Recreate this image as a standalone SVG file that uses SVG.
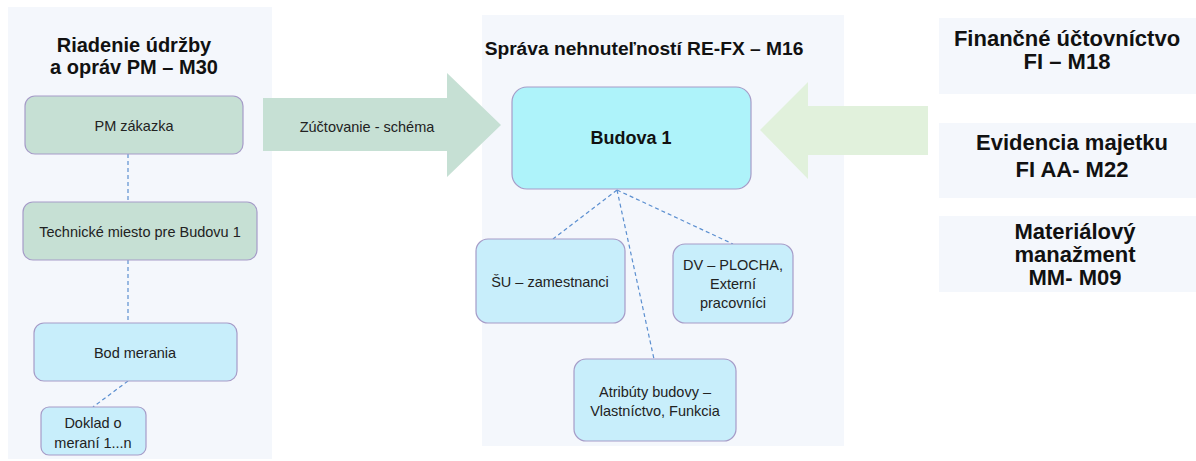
<svg xmlns="http://www.w3.org/2000/svg" width="1196" height="461" viewBox="0 0 1196 461">
<style>
.panel{fill:#F4F7FC}
.green{fill:#C6E0D4;stroke:#A69CC8;stroke-width:1.2}
.blue{fill:#C8EEFB;stroke:#A69CC8;stroke-width:1.2}
.cyan{fill:#AEF3FA;stroke:#A69CC8;stroke-width:1.2}
.t{font-family:"Liberation Sans",Arial,sans-serif;font-size:14.5px;fill:#222;text-anchor:middle}
.h{font-family:"Liberation Sans",Arial,sans-serif;font-size:20px;font-weight:bold;fill:#111;text-anchor:middle}
.hr{font-size:22px}
.dash{stroke:#5B8FD0;stroke-width:1.2;stroke-dasharray:4 3;fill:none}
</style>
<rect width="1196" height="461" fill="#FFFFFF"/>
<g id="panel-left">
<rect class="panel" x="8" y="7" width="264" height="452"/>
<text class="h" x="134" y="52">Riadenie údržby</text>
<text class="h" x="134" y="74">a opráv PM – M30</text>
</g>
<g id="panel-center">
<rect class="panel" x="482" y="15" width="362" height="431"/>
<text class="h" x="644" y="55" style="font-size:19.2px">Správa nehnuteľností RE-FX – M16</text>
</g>
<g id="connectors">
<line class="dash" x1="128" y1="154" x2="128" y2="202"/>
<line class="dash" x1="128" y1="260" x2="128" y2="323"/>
<line class="dash" x1="128" y1="381" x2="93" y2="407"/>
<line class="dash" x1="617" y1="190" x2="553" y2="239"/>
<line class="dash" x1="617" y1="190" x2="654" y2="359"/>
<line class="dash" x1="617" y1="190" x2="733" y2="244"/>
</g>
<g id="pm-zakazka">
<rect class="green" x="25" y="96" width="218" height="58" rx="10"/>
<text class="t" x="134" y="131">PM zákazka</text>
</g>
<g id="technicke-miesto">
<rect class="green" x="23" y="202" width="234" height="58" rx="10"/>
<text class="t" x="140" y="237">Technické miesto pre Budovu 1</text>
</g>
<g id="bod-merania">
<rect class="blue" x="34" y="323" width="203" height="58" rx="10"/>
<text class="t" x="135" y="358">Bod merania</text>
</g>
<g id="doklad">
<rect class="blue" x="41" y="407" width="105" height="48" rx="8"/>
<text class="t" x="93" y="428">Doklad o</text>
<text class="t" x="93" y="448">meraní 1...n</text>
</g>
<g id="arrow-zuctovanie">
<polygon points="263,98 447,98 447,73 501,125 447,177 447,151 263,151" fill="#C6E0D4"/>
<text class="t" x="367" y="132">Zúčtovanie - schéma</text>
</g>
<g id="budova">
<rect class="cyan" x="512" y="87" width="239" height="102" rx="15"/>
<text class="t" x="631" y="144" style="font-size:18px;font-weight:bold;fill:#111">Budova 1</text>
</g>
<g id="su">
<rect class="blue" x="476" y="239" width="149" height="84" rx="12"/>
<text class="t" x="550" y="287">ŠU – zamestnanci</text>
</g>
<g id="dv">
<rect class="blue" x="673" y="244" width="120" height="79" rx="12"/>
<text class="t" x="733" y="270">DV – PLOCHA,</text>
<text class="t" x="733" y="289">Externí</text>
<text class="t" x="733" y="308">pracovníci</text>
</g>
<g id="atributy">
<rect class="blue" x="574" y="359" width="162" height="82" rx="12"/>
<text class="t" x="655" y="397">Atribúty budovy –</text>
<text class="t" x="655" y="416">Vlastníctvo, Funkcia</text>
</g>
<g id="arrow-fi">
<polygon points="928,106 808,106 808,82 760,130 808,179 808,155 928,155" fill="#E1F1DC"/>
</g>
<g id="fi">
<rect class="panel" x="939" y="18" width="257" height="76"/>
<text class="h hr" x="1067" y="46">Finančné účtovníctvo</text>
<text class="h hr" x="1067" y="69">FI – M18</text>
</g>
<g id="aa">
<rect class="panel" x="939" y="123" width="257" height="75"/>
<text class="h hr" x="1072" y="150">Evidencia majetku</text>
<text class="h hr" x="1072" y="177">FI AA- M22</text>
</g>
<g id="mm">
<rect class="panel" x="939" y="216" width="257" height="76"/>
<text class="h hr" x="1075" y="239">Materiálový</text>
<text class="h hr" x="1075" y="262">manažment</text>
<text class="h hr" x="1075" y="285">MM- M09</text>
</g>
</svg>
